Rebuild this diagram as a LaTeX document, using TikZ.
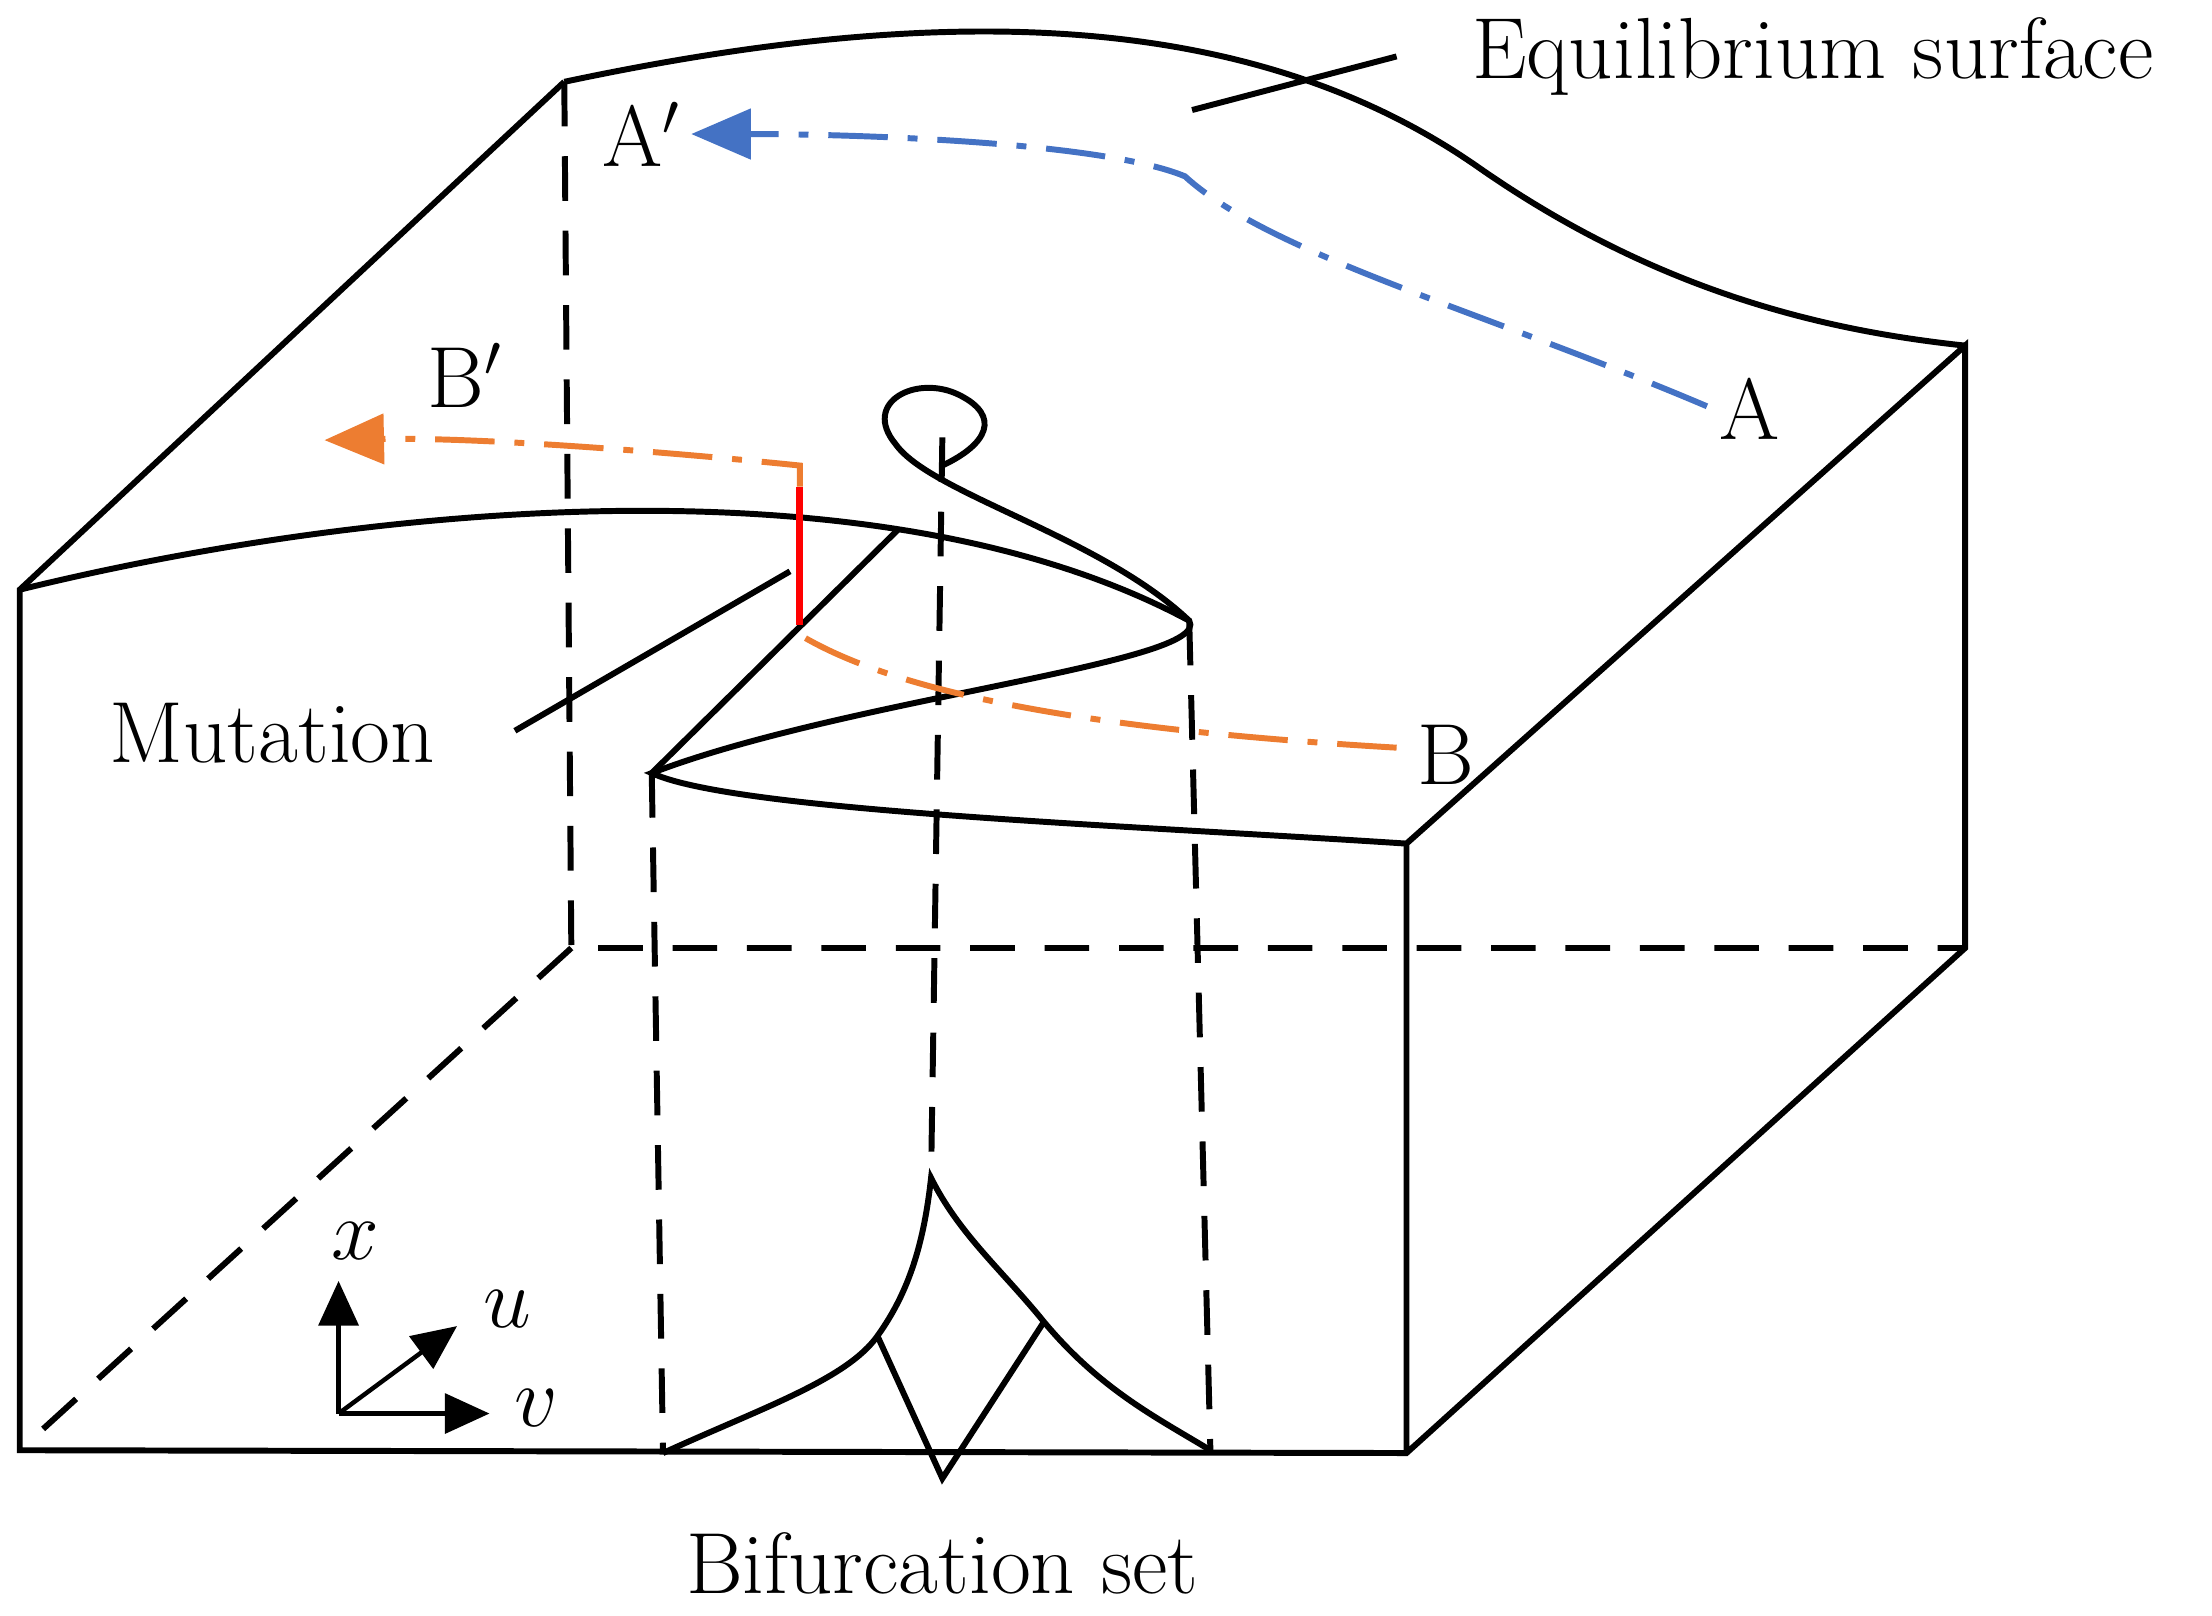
\documentclass[tikz,border=0pt]{standalone}
\usetikzlibrary{arrows.meta}
\begin{document}
\begin{tikzpicture}[x=0.01cm,y=-0.01cm,
  ln/.style={line width=1.2pt},
  ds/.style={line width=1.2pt,dash pattern=on 9pt off 6pt},
  dd/.style={line width=1.2pt,dash pattern=on 12pt off 4pt on 2pt off 4pt},
  lab/.style={font=\fontsize{17.5}{21}\selectfont,inner sep=0pt},
  ax/.style={line width=0.9pt,-{Triangle[length=9pt,width=8pt]}}]
\useasboundingbox (0,0) rectangle (1568,1145);
% corners
\coordinate (BLT) at (400,58); \coordinate (BRT) at (1393,245);
\coordinate (FLT) at (14,418); \coordinate (FRT) at (997,598);
\coordinate (FLB) at (14,1028); \coordinate (FRB) at (997,1030);
\coordinate (BRB) at (1393,672); \coordinate (BLB) at (405,672);
\coordinate (F1) at (843,440); \coordinate (F2) at (462,548);
% top surface
\draw[ln] (BLT) .. controls (650,5) and (880,0) .. (1050,120) .. controls (1180,210) and (1300,235) .. (BRT);
\draw[ln] (BLT) -- (FLT) -- (FLB) -- (FRB) -- (BRB) -- (BRT) -- (FRT) -- (FRB);
\draw[ln] (FLT) .. controls (250,360) and (620,320) .. (F1)
  .. controls (860,470) and (600,495) .. (F2)
  .. controls (520,575) and (800,585) .. (FRT);
% fold upper sheet and loop
\draw[ln] (F1) .. controls (780,380) and (660,350) .. (635,315)
  .. controls (610,285) and (650,265) .. (680,280)
  .. controls (710,295) and (700,315) .. (668,330);
\draw[ln] (637,375) -- (F2);
\draw[ln] (365,518) -- (560,405);
\draw[red,line width=1.4pt] (567,345) -- (567,443);
% dashed
\draw[ds] (BLT) -- (BLB) -- (BRB);
\draw[ds] (BLB) -- (FLB);
\draw[ds] (F2) -- (470,1030);
\draw[ds] (F1) -- (858,1028);
\draw[ds] (668,310) -- (660,835);
% bifurcation
\coordinate (C1) at (622,947); \coordinate (C2) at (740,937); \coordinate (C0) at (668,1048);
\draw[ln] (470,1030) .. controls (540,998) and (600,978) .. (C1)
  .. controls (645,915) and (655,880) .. (660,835)
  .. controls (680,875) and (710,900) .. (C2)
  .. controls (780,985) and (820,1005) .. (858,1028);
\draw[ln] (C1) -- (C0) -- (C2);
% paths
\draw[dd,color={rgb,255:red,68;green,114;blue,196},-{Triangle[length=12pt,width=10pt]}]
  (1210,288) .. controls (1050,220) and (900,180) .. (840,125) .. controls (780,100) and (600,95) .. (490,95);
\draw[dd,color={rgb,255:red,237;green,125;blue,49}]
  (990,530) .. controls (820,520) and (650,500) .. (567,450);
\draw[dd,color={rgb,255:red,237;green,125;blue,49},-{Triangle[length=12pt,width=10pt]}]
  (567,345) -- (567,330) .. controls (450,318) and (330,310) .. (230,312);
% leader
\draw[ln] (845,78) -- (990,40);
% labels
\node[lab,anchor=west] (eq) at (1043,40) {Equilibrium surface};
\node[lab] (ap) at (455,95) {A$'$};
\node[lab] (a) at (1240,290) {A};
\node[lab] (bp) at (330,266) {B$'$};
\node[lab] (b) at (1025,535) {B};
\node[lab] (mu) at (193,520) {Mutation};
\node[lab] (bs) at (668,1108) {Bifurcation set};
% axes
\coordinate (O) at (240,1002);
\draw[ax] (O) -- (240,908);
\draw[ax] (O) -- (347,1002);
\draw[ax] (O) -- (324,940);
\node[lab] (xl) at (252,880) {$x$};
\node[lab] (ul) at (360,928) {$u$};
\node[lab] (vl) at (380,998) {$v$};
\end{tikzpicture}
\end{document}
